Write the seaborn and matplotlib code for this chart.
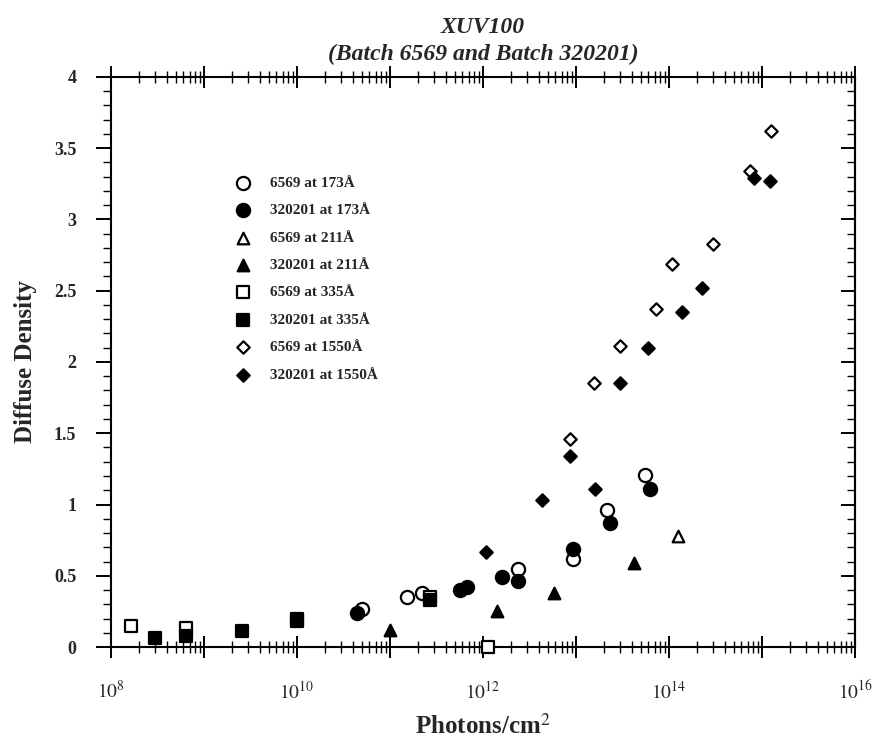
import numpy as np
import seaborn as sns
import matplotlib.pyplot as plt
from matplotlib.ticker import LogLocator, MultipleLocator, FuncFormatter, NullFormatter

# valores: expoente (log10 de photons/cm2) e densidade difusa
c173_6569_exp = [10.70, 11.18, 11.34, 12.38, 12.97, 13.33, 13.74]
c173_6569_dd = [0.27, 0.35, 0.38, 0.55, 0.62, 0.96, 1.21]
c173_320201_exp = [10.64, 11.75, 11.83, 12.20, 12.38, 12.97, 13.37, 13.79]
c173_320201_dd = [0.24, 0.40, 0.42, 0.49, 0.46, 0.69, 0.87, 1.11]

t211_6569_exp = [14.10]
t211_6569_dd = [0.78]
t211_320201_exp = [11.00, 12.15, 12.76, 13.62]
t211_320201_dd = [0.12, 0.25, 0.38, 0.59]

s335_6569_exp = [8.22, 8.81, 10.00, 11.43, 12.05]
s335_6569_dd = [0.15, 0.13, 0.20, 0.35, 0.0]
s335_320201_exp = [8.47, 8.81, 9.41, 10.00, 11.43]
s335_320201_dd = [0.06, 0.08, 0.11, 0.18, 0.33]

d1550_6569_exp = [12.93, 13.19, 13.47, 13.86, 14.03, 14.47, 14.87, 15.10]
d1550_6569_dd = [1.46, 1.85, 2.11, 2.37, 2.69, 2.83, 3.34, 3.62]
d1550_320201_exp = [12.03, 12.63, 12.93, 13.20, 13.47, 13.77, 14.14, 14.35, 14.91, 15.09]
d1550_320201_dd = [0.67, 1.03, 1.34, 1.11, 1.85, 2.10, 2.35, 2.52, 3.29, 3.27]

series = [
    ('6569 at 173Å', c173_6569_exp, c173_6569_dd, 'o', False, 90),
    ('320201 at 173Å', c173_320201_exp, c173_320201_dd, 'o', True, 90),
    ('6569 at 211Å', t211_6569_exp, t211_6569_dd, '^', False, 70),
    ('320201 at 211Å', t211_320201_exp, t211_320201_dd, '^', True, 70),
    ('6569 at 335Å', s335_6569_exp, s335_6569_dd, 's', False, 70),
    ('320201 at 335Å', s335_320201_exp, s335_320201_dd, 's', True, 70),
    ('6569 at 1550Å', d1550_6569_exp, d1550_6569_dd, 'D', False, 40),
    ('320201 at 1550Å', d1550_320201_exp, d1550_320201_dd, 'D', True, 40),
]

sns.set_style('ticks')
plt.rcParams['font.family'] = ['Liberation Serif', 'DejaVu Serif']
plt.rcParams['mathtext.fontset'] = 'stix'

fig = plt.figure(figsize=(8.77, 7.46), dpi=100)
ax = fig.add_axes([0.1266, 0.1327, 0.975 - 0.1266, 0.8968 - 0.1327])

for label, xs, ys, mk, filled, size in series:
    sns.scatterplot(x=10.0 ** np.array(xs), y=ys, marker=mk, s=size,
                    facecolor='black' if filled else 'white',
                    edgecolor='black', linewidth=1.6, label=label,
                    zorder=3, clip_on=False, ax=ax)

ax.set_xscale('log')
ax.set_xlim(1e8, 1e16)
ax.set_ylim(0, 4)

# ticks do eixo x: todas as decadas, rotulo so nas pares
ax.xaxis.set_major_locator(LogLocator(base=10, numticks=20))
ax.xaxis.set_minor_locator(LogLocator(base=10, subs=np.arange(2, 10), numticks=100))
ax.xaxis.set_minor_formatter(NullFormatter())
ax.xaxis.set_major_formatter(FuncFormatter(
    lambda v, p: r'$10^{%d}$' % round(np.log10(v)) if round(np.log10(v)) % 2 == 0 else ''))
ax.tick_params(axis='x', which='both', top=True, direction='inout', color='black')
ax.tick_params(axis='x', which='major', length=16, width=1.4, labelsize=14, pad=16)
ax.tick_params(axis='x', which='minor', length=8, width=1.0)

ax.yaxis.set_major_locator(MultipleLocator(0.5))
ax.yaxis.set_minor_locator(MultipleLocator(0.1))
ax.yaxis.set_major_formatter(FuncFormatter(lambda v, p: '%g' % v))
ax.tick_params(axis='y', which='both', right=False, direction='out', color='black')
ax.tick_params(axis='y', which='major', length=11, width=1.4, labelsize=13, pad=14)
ax.tick_params(axis='y', which='minor', length=5.5, width=1.0)
for lab in ax.get_yticklabels():
    lab.set_fontweight('bold')

# eixo da direita com ticks para dentro
sec = ax.secondary_yaxis('right')
sec.yaxis.set_major_locator(MultipleLocator(0.5))
sec.yaxis.set_minor_locator(MultipleLocator(0.1))
sec.tick_params(which='both', direction='in', labelright=False, color='black')
sec.tick_params(which='major', length=10, width=1.4)
sec.tick_params(which='minor', length=6, width=1.0)
sec.spines['right'].set_linewidth(1.5)

for sp in ax.spines.values():
    sp.set_linewidth(1.5)
    sp.set_color('black')

ax.set_xlabel('Photons/cm$^2$', fontsize=18, fontweight='bold', labelpad=8)
ax.set_ylabel('Diffuse Density', fontsize=18, fontweight='bold', labelpad=12)
ax.set_title('XUV100\n(Batch 6569 and Batch 320201)', fontsize=17,
             fontweight='bold', fontstyle='italic', pad=12, linespacing=1.4)

ax.legend(loc='upper left', bbox_to_anchor=(0.148, 0.837), frameon=False,
          prop={'weight': 'bold', 'size': 11}, labelspacing=0.9,
          handletextpad=0.8, borderaxespad=0)

plt.savefig('out.png', dpi=100)
